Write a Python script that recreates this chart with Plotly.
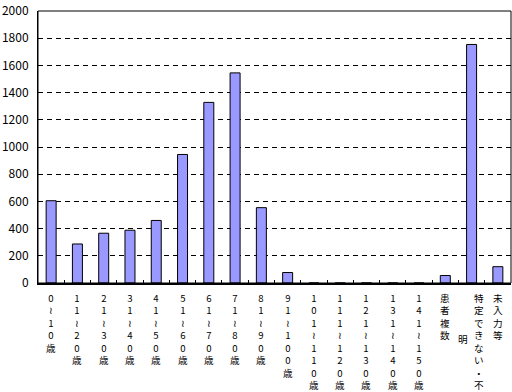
import plotly.graph_objects as go

categories = ["0～10歳", "11～20歳", "21～30歳", "31～40歳", "41～50歳", "51～60歳",
              "61～70歳", "71～80歳", "81～90歳", "91～100歳", "101～110歳",
              "111～120歳", "121～130歳", "131～140歳", "141～150歳",
              "患者複数", "特定できない・不明", "未入力等"]
values = [605, 287, 366, 388, 460, 945, 1328, 1545, 554, 77, 0, 0, 0, 0, 0, 55, 1754, 120]
y_ticks = [0, 200, 400, 600, 800, 1000, 1200, 1400, 1600, 1800, 2000]

FONT = "Noto Sans CJK JP, Liberation Sans, sans-serif"
VFONT = 9.6  # line height 1.3 * 9.6 = 12.5 px per stacked character


def vertical(s):
    # stack characters one per line; the fullwidth tilde is shown upright as a vertical wave
    return "<br>".join("≀" if ch == "～" else ch for ch in s)


fig = go.Figure()
fig.add_trace(go.Bar(
    x=categories, y=values,
    marker=dict(color="#9999FF", line=dict(color="black", width=1)),
    showlegend=False,
))

annotations = []
for cat in categories:
    if cat == "特定できない・不明":
        main, extra, xs = cat[:-1], cat[-1], 7
    else:
        main, extra, xs = cat, None, 0
    annotations.append(dict(
        x=cat, xref="x", y=0, yref="paper", text=vertical(main), showarrow=False,
        xanchor="center", yanchor="top", xshift=xs, yshift=-7, borderpad=0,
        font=dict(family=FONT, size=VFONT, color="black"),
    ))
    if extra:
        annotations.append(dict(
            x=cat, xref="x", y=0, yref="paper", text=vertical(extra), showarrow=False,
            xanchor="center", yanchor="top", xshift=-9, yshift=-7 - 3.3 * 1.3 * VFONT,
            borderpad=0,
            font=dict(family=FONT, size=VFONT, color="black"),
        ))

fig.update_layout(
    width=512, height=392,
    margin=dict(l=38, r=1, t=6, b=109),
    paper_bgcolor="white", plot_bgcolor="white",
    bargap=0.62,
    font=dict(family=FONT, color="black"),
    xaxis=dict(
        type="category", showticklabels=False,
        ticks="inside", tickson="boundaries", ticklen=3, tickcolor="black", tickwidth=1,
        showline=True, linecolor="black", linewidth=2,
        showgrid=False, zeroline=False, fixedrange=True,
    ),
    yaxis=dict(
        range=[0, 2000], tickvals=y_ticks, ticktext=[str(v) for v in y_ticks],
        tickfont=dict(family=FONT, size=12, color="black"),
        ticks="", ticklabelstandoff=6, ticklabeloverflow="allow",
        showline=True, linecolor="black", linewidth=1,
        showgrid=True, gridcolor="black", gridwidth=1, griddash="5px,4px",
        zeroline=False, fixedrange=True,
    ),
    shapes=[dict(type="rect", xref="paper", yref="paper", x0=0, x1=1, y0=0, y1=1,
                 line=dict(color="black", width=1), fillcolor="rgba(0,0,0,0)", layer="above")],
    annotations=annotations,
)

fig.write_html("out.html")
